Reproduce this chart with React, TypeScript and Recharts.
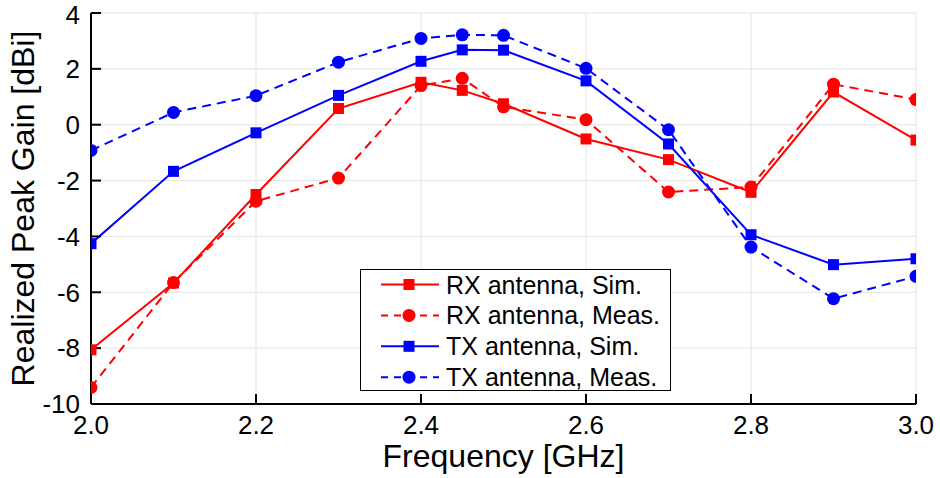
import React from 'react';
import { LineChart, Line, XAxis, YAxis, CartesianGrid, Legend } from 'recharts';

const frequency = [2.0, 2.1, 2.2, 2.3, 2.4, 2.45, 2.5, 2.6, 2.7, 2.8, 2.9, 3.0];
const rxSim = [-8.06, -5.67, -2.5, 0.58, 1.52, 1.23, 0.75, -0.51, -1.25, -2.42, 1.17, -0.55];
const rxMeas = [-9.41, -5.65, -2.74, -1.91, 1.4, 1.66, 0.64, 0.18, -2.41, -2.23, 1.45, 0.9];
const txSim = [-4.26, -1.67, -0.29, 1.05, 2.27, 2.68, 2.67, 1.57, -0.69, -3.94, -5.01, -4.8];
const txMeas = [-0.92, 0.44, 1.04, 2.24, 3.09, 3.22, 3.2, 2.02, -0.18, -4.38, -6.23, -5.43];

const xTicks = [2.0, 2.2, 2.4, 2.6, 2.8, 3.0];
const yTicks = [-10, -8, -6, -4, -2, 0, 2, 4];

const seriesNames = ['RX antenna, Sim.', 'RX antenna, Meas.', 'TX antenna, Sim.', 'TX antenna, Meas.'];
const seriesKeys = ['rxSim', 'rxMeas', 'txSim', 'txMeas'];
const seriesColors = ['#ff0000', '#ff0000', '#0000ff', '#0000ff'];
const seriesDashed = [false, true, false, true];
const seriesSquare = [true, false, true, false];

const data = frequency.map((f, i) => ({
  f,
  rxSim: rxSim[i],
  rxMeas: rxMeas[i],
  txSim: txSim[i],
  txMeas: txMeas[i],
}));

const FONT = '"Liberation Sans", Arial, Helvetica, sans-serif';
const DASH = '9 6';

const squareDot = (color: string) => (props: any) => {
  const { cx, cy, index } = props;
  if (cx == null || cy == null) return <g key={index} />;
  return <rect key={index} x={cx - 5.5} y={cy - 5.5} width={11} height={11} fill={color} stroke="none" />;
};

const circleDot = (color: string) => (props: any) => {
  const { cx, cy, index } = props;
  if (cx == null || cy == null) return <g key={index} />;
  return <circle key={index} cx={cx} cy={cy} r={6.5} fill={color} stroke="none" />;
};

const LegendBox = () => (
  <svg width={312} height={123} style={{ display: 'block' }}>
    <rect x={0.5} y={0.5} width={310} height={121} fill="#ffffff" stroke="#000000" strokeWidth={1} />
    {seriesNames.map((name, i) => {
      const cy = 15.5 + i * 30.9;
      const color = seriesColors[i];
      return (
        <g key={name}>
          <line x1={21} x2={79} y1={cy} y2={cy} stroke={color} strokeWidth={2} strokeDasharray={seriesDashed[i] ? '7 6' : undefined} />
          {seriesSquare[i] ? (
            <rect x={49 - 5.5} y={cy - 5.5} width={11} height={11} fill={color} />
          ) : (
            <circle cx={49} cy={cy} r={6.5} fill={color} />
          )}
          <text x={86} y={cy + 9} fontSize={25} fontFamily={FONT} fill="#000000">
            {name}
          </text>
        </g>
      );
    })}
  </svg>
);

const YLabel = (props: any) => {
  const vb = props.viewBox || {};
  const cx = (vb.x || 0) + 34;
  const cy = (vb.y || 0) + (vb.height || 0) / 2;
  return (
    <text
      x={cx}
      y={cy}
      transform={`rotate(-90 ${cx} ${cy})`}
      textAnchor="middle"
      fontSize={32}
      fontFamily={FONT}
      fill="#000000"
    >
      Realized Peak Gain [dBi]
    </text>
  );
};

const XLabel = (props: any) => {
  const vb = props.viewBox || {};
  const cx = (vb.x || 0) + (vb.width || 0) / 2;
  const y = (vb.y || 0) + 63;
  return (
    <text x={cx} y={y} textAnchor="middle" fontSize={32} fontFamily={FONT} fill="#000000">
      Frequency [GHz]
    </text>
  );
};

const tickStyle = { fontSize: 26, fontFamily: FONT, fill: '#000000' };
const axisLine = { stroke: '#000000', strokeWidth: 2 };
const tickLine = { stroke: '#000000', strokeWidth: 2 };

export default function App() {
  return (
    <div style={{ position: 'absolute', left: 0, top: 0, width: 940, height: 478, background: '#ffffff' }}>
      <LineChart width={940} height={478} data={data} margin={{ top: 13, right: 24, bottom: 0, left: 0 }}>
        <CartesianGrid stroke="#e3e3e3" strokeWidth={1} vertical horizontal />
        <XAxis
          dataKey="f"
          type="number"
          domain={[2, 3]}
          ticks={xTicks}
          allowDataOverflow
          height={74}
          tickSize={-10}
          tickMargin={22}
          tick={tickStyle}
          tickFormatter={(v: number) => v.toFixed(1)}
          axisLine={axisLine}
          tickLine={tickLine}
          label={<XLabel />}
        />
        <XAxis
          xAxisId="top"
          dataKey="f"
          orientation="top"
          type="number"
          domain={[2, 3]}
          ticks={xTicks}
          height={0}
          tickSize={-10}
          tickFormatter={() => ''}
          axisLine={axisLine}
          tickLine={tickLine}
        />
        <YAxis
          type="number"
          domain={[-10, 4]}
          ticks={yTicks}
          allowDataOverflow
          width={91}
          tickSize={-10}
          tickMargin={21}
          tick={tickStyle}
          axisLine={axisLine}
          tickLine={tickLine}
          label={<YLabel />}
        />
        <YAxis
          yAxisId="right"
          orientation="right"
          type="number"
          domain={[-10, 4]}
          ticks={yTicks}
          width={0}
          tickSize={-10}
          tickFormatter={() => ''}
          axisLine={axisLine}
          tickLine={tickLine}
        />
        <Legend
          layout="vertical"
          align="center"
          verticalAlign="middle"
          content={() => <LegendBox />}
          wrapperStyle={{ position: 'absolute', left: 360, top: 269, width: 312, height: 123 }}
        />
        {seriesKeys.map((k, i) => (
          <Line
            key={k}
            dataKey={k}
            name={seriesNames[i]}
            type="linear"
            stroke={seriesColors[i]}
            strokeWidth={2}
            strokeDasharray={seriesDashed[i] ? DASH : undefined}
            dot={seriesSquare[i] ? squareDot(seriesColors[i]) : circleDot(seriesColors[i])}
            activeDot={false}
            isAnimationActive={false}
          />
        ))}
      </LineChart>
    </div>
  );
}
